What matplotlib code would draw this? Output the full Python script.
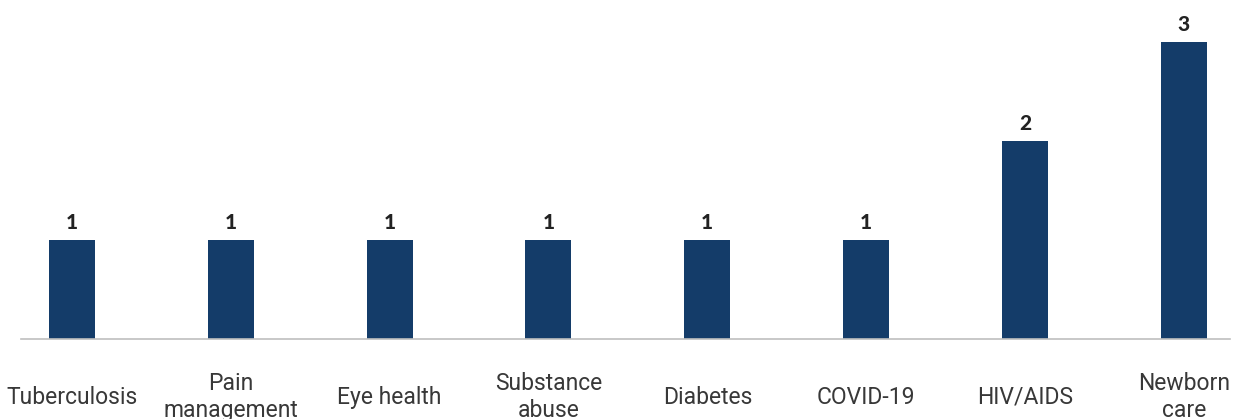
import matplotlib.pyplot as plt

categories = ['Tuberculosis', 'Pain\nmanagement', 'Eye health', 'Substance\nabuse',
              'Diabetes', 'COVID-19', 'HIV/AIDS', 'Newborn\ncare']
counts = [1, 1, 1, 1, 1, 1, 2, 3]

fig = plt.figure(figsize=(12.36, 4.19), dpi=100)
ax = fig.add_axes([21 / 1236, 80 / 419, 1209 / 1236, 339 / 419])

x = range(len(categories))
bars = ax.bar(x, counts, width=0.29, color='#143c69', zorder=2)

# value labels above each bar
for b, v in zip(bars, counts):
    ax.annotate(str(v), (b.get_x() + b.get_width() / 2, v), xytext=(0, 6),
                textcoords='offset points', ha='center', va='bottom',
                fontsize=15, fontweight='black', color='#222222', family='Lato')

ax.set_xlim(-0.32, 7.29)
ax.set_ylim(0, 3.43)
ax.set_xticks(list(x))
ax.set_xticklabels(categories, fontsize=16.5, color='#383838', family='Roboto',
                   linespacing=1.22)
for lbl in ax.get_xticklabels():
    lbl.set_verticalalignment('center')
ax.tick_params(axis='x', length=0, pad=42)
ax.set_yticks([])

for s in ['top', 'right', 'left']:
    ax.spines[s].set_visible(False)
ax.spines['bottom'].set_color('#bfbfbf')
ax.spines['bottom'].set_linewidth(1.2)

fig.savefig('out.png', dpi=100)
